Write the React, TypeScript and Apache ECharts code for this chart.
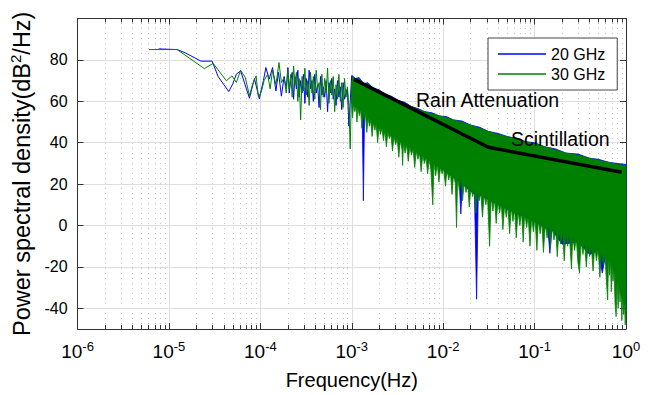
import React, { useEffect, useRef } from "react";
import * as echarts from "echarts";

// ---------- data ----------
// 20 GHz, sparse low-frequency part
const blueLowFreq = [7.69e-6, 1.23e-5, 1.51e-5, 2.24e-5, 2.97e-5, 3.45e-5, 4.51e-5, 5.0e-5, 5.46e-5, 6.08e-5, 7.6e-5, 8.61e-5, 9.75e-5, 1.08e-4, 1.15e-4, 1.25e-4, 1.36e-4, 1.48e-4, 1.58e-4, 1.7e-4, 1.82e-4, 1.92e-4];
const blueLowDb = [85.3, 85, 83.4, 79.4, 79.4, 72, 64.7, 68.5, 73.1, 74.7, 61.5, 71, 61.2, 70, 76.3, 70.7, 76.3, 65, 74, 62.5, 72, 66];
// 30 GHz, sparse low-frequency part
const greenLowFreq = [6.05e-6, 1.23e-5, 2.44e-5, 3.05e-5, 4.25e-5, 4.9e-5, 5.46e-5, 6.08e-5, 6.84e-5, 7.6e-5, 8.2e-5, 8.99e-5, 9.5e-5, 1.02e-4, 1.1e-4, 1.2e-4, 1.28e-4, 1.36e-4, 1.48e-4, 1.6e-4, 1.7e-4, 1.82e-4, 1.92e-4];
const greenLowDb = [85, 85, 75.8, 78.3, 69.9, 72.3, 69.1, 75, 71.5, 62.8, 68, 72.3, 62, 64.4, 70, 73.1, 66, 75, 68, 78.7, 69, 71.5, 64];
// dense noisy part 2e-4 .. 1e-3
const denseFreq = [2.0e-4, 2.07e-4, 2.15e-4, 2.23e-4, 2.31e-4, 2.39e-4, 2.48e-4, 2.57e-4, 2.66e-4, 2.76e-4, 2.86e-4, 2.96e-4, 3.07e-4, 3.18e-4, 3.3e-4, 3.42e-4, 3.54e-4, 3.67e-4, 3.8e-4, 3.94e-4, 4.08e-4, 4.23e-4, 4.39e-4, 4.55e-4, 4.71e-4, 4.88e-4, 5.06e-4, 5.25e-4, 5.44e-4, 5.63e-4, 5.84e-4, 6.05e-4, 6.27e-4, 6.5e-4, 6.73e-4, 6.98e-4, 7.23e-4, 7.5e-4, 7.77e-4, 8.05e-4, 8.34e-4, 8.65e-4, 8.96e-4, 9.29e-4, 9.62e-4, 9.97e-4];
const denseBlueDb = [76.3, 64, 70, 74, 61, 72, 66, 75, 62, 70, 64, 73, 59, 71, 62, 75, 66, 70, 60, 73, 64, 68, 57, 72, 63, 67, 62, 70, 55, 69, 64, 71, 61, 66, 58, 70, 62, 67, 56, 69, 61, 64, 66, 48, 60, 72];
const denseGreenDb = [75.5, 66, 73, 62, 77, 68, 74, 60, 71, 51, 72, 65, 76, 63, 70, 58, 74, 64, 72, 61, 75, 66, 69, 56, 73, 62, 71, 64, 76, 59, 70, 63, 72, 55, 68, 61, 73, 60, 69, 57, 71, 62, 67, 58, 37, 70];

// envelopes of the very dense spectra, 1e-3 .. 1 Hz  ([freq, dB])
const blueBandUpper = [[1.0e-3, 72.5], [1.1e-3, 71], [1.2e-3, 71.5], [1.35e-3, 68.5], [1.5e-3, 69], [1.7e-3, 66.5], [2.0e-3, 65.5], [2.3e-3, 63.5], [2.7e-3, 62.5], [3.2e-3, 60.5], [3.8e-3, 59.5], [4.5e-3, 57.5], [5.3e-3, 56.5], [6.3e-3, 55], [7.5e-3, 54.5], [9.0e-3, 53], [1.1e-2, 52.5], [1.3e-2, 51], [1.6e-2, 50.5], [2.0e-2, 48.5], [2.5e-2, 47.5], [3.1e-2, 45.5], [4.0e-2, 44.5], [5.0e-2, 43], [6.5e-2, 42], [8.0e-2, 40.5], [0.1, 40], [0.13, 38], [0.17, 37], [0.22, 35], [0.3, 34.5], [0.4, 32.5], [0.5, 32], [0.65, 30.5], [0.8, 30], [1.0, 29.5]];
const blueBandLower = [[1.0e-3, 59], [1.3e-3, 55], [1.34e-3, 12], [1.38e-3, 54], [3.0e-3, 43], [1.0e-2, 27], [1.5e-2, 21], [1.56e-2, 5.6], [1.62e-2, 20], [2.2e-2, 15], [2.32e-2, -35.6], [2.42e-2, 15], [5.0e-2, 8], [0.1, 2], [0.14, -2], [0.147, -13.4], [0.154, -2], [0.2, -9], [0.3, -8], [0.4, -14], [0.5, -12], [0.55, -23], [0.6, -14], [0.7, -18], [0.85, -30], [1.0, -40]];
const greenBandUpper = [[1.0e-3, 72], [1.1e-3, 70.5], [1.2e-3, 71], [1.35e-3, 68.5], [1.5e-3, 68.5], [1.7e-3, 66.5], [2.0e-3, 65], [2.3e-3, 63.5], [2.7e-3, 62], [3.2e-3, 60.5], [3.8e-3, 59], [4.5e-3, 57.5], [5.3e-3, 56], [6.3e-3, 55], [7.5e-3, 54], [9.0e-3, 53], [1.1e-2, 52], [1.3e-2, 51], [1.6e-2, 50], [2.0e-2, 48.5], [2.5e-2, 47], [3.1e-2, 45.5], [4.0e-2, 44], [5.0e-2, 43], [6.5e-2, 41.5], [8.0e-2, 40.5], [0.1, 39.5], [0.13, 38], [0.17, 36.5], [0.22, 35], [0.3, 34], [0.4, 32.5], [0.5, 31.5], [0.65, 30.5], [0.8, 29.5], [1.0, 29]];
const greenBandLower = [[1.0e-3, 58], [1.02e-3, 52], [1.05e-3, 59], [1.08e-3, 55], [1.11e-3, 58], [1.14e-3, 50], [1.17e-3, 57], [1.21e-3, 53], [1.25e-3, 56], [1.29e-3, 47], [1.33e-3, 54], [1.37e-3, 51], [1.41e-3, 54], [1.46e-3, 45], [1.51e-3, 52], [1.56e-3, 48], [1.61e-3, 51], [1.67e-3, 43], [1.73e-3, 50], [1.79e-3, 46], [1.85e-3, 49], [1.92e-3, 40], [1.99e-3, 48], [2.06e-3, 44], [2.14e-3, 47], [2.22e-3, 41], [2.3e-3, 46], [2.39e-3, 38], [2.48e-3, 45], [2.58e-3, 42], [2.68e-3, 44], [2.79e-3, 36], [2.9e-3, 43], [3.02e-3, 39], [3.14e-3, 42], [3.27e-3, 33], [3.4e-3, 41], [3.54e-3, 37], [3.6e-3, 29], [3.68e-3, 40], [3.83e-3, 35], [3.99e-3, 39], [4.15e-3, 31], [4.32e-3, 38], [4.5e-3, 34], [4.69e-3, 37], [4.88e-3, 28], [5.08e-3, 36], [5.29e-3, 32], [5.51e-3, 35], [5.74e-3, 26], [5.98e-3, 34], [6.23e-3, 30], [6.49e-3, 33], [6.76e-3, 25], [7.04e-3, 32], [7.33e-3, 27], [7.7e-3, 10], [7.95e-3, 31], [8.28e-3, 24], [8.62e-3, 30], [8.98e-3, 21], [9.35e-3, 28], [9.74e-3, 25], [1.01e-2, 28], [1.06e-2, 19], [1.1e-2, 27], [1.15e-2, 22], [1.2e-2, 26], [1.25e-2, 15], [1.3e-2, 25], [1.36e-2, 20], [1.4e-2, -1], [1.44e-2, 24], [1.5e-2, 17], [1.57e-2, 23], [1.63e-2, 12], [1.7e-2, 21], [1.78e-2, 16], [1.85e-2, 20], [1.93e-2, 9], [2.01e-2, 19], [2.1e-2, 14], [2.19e-2, 18], [2.28e-2, 6], [2.38e-2, 17], [2.48e-2, 12], [2.58e-2, 16], [2.69e-2, 4], [2.81e-2, 15], [2.93e-2, 10], [3.05e-2, 15], [3.22e-2, -10], [3.35e-2, 14], [3.5e-2, 7], [3.65e-2, 13], [3.8e-2, 1], [3.97e-2, 12], [4.14e-2, 6], [4.32e-2, 11], [4.5e-2, -2], [4.7e-2, 10], [4.9e-2, 4], [5.1e-2, 10], [5.33e-2, -4], [5.56e-2, 9], [5.8e-2, 2], [6.05e-2, 8], [6.3e-2, -6], [6.6e-2, 7], [6.9e-2, 0], [7.2e-2, 7], [7.5e-2, -8], [7.8e-2, 6], [8.2e-2, -1], [8.5e-2, 5], [8.9e-2, -10], [9.3e-2, 4], [9.7e-2, -3], [0.101, 4], [0.106, -12], [0.11, 3], [0.115, -4], [0.12, 2], [0.125, -13], [0.131, 1], [0.137, -6], [0.143, 1], [0.149, -11], [0.156, 0], [0.163, -7], [0.17, -1], [0.177, -15], [0.185, -2], [0.193, -9], [0.202, -3], [0.211, -17], [0.22, -3], [0.23, -10], [0.24, -4], [0.253, -21], [0.262, -5], [0.274, -12], [0.286, -6], [0.298, -18], [0.31, -23], [0.323, -7], [0.338, -14], [0.352, -8], [0.368, -20], [0.384, -9], [0.4, -15], [0.418, -10], [0.436, -22], [0.455, -10], [0.475, -17], [0.496, -11], [0.518, -25], [0.54, -12], [0.563, -19], [0.588, -13], [0.613, -28], [0.63, -36], [0.645, -15], [0.66, -24], [0.675, -16], [0.69, -32], [0.705, -18], [0.72, -27], [0.74, -21], [0.76, -38], [0.78, -44], [0.8, -26], [0.82, -40], [0.84, -28], [0.86, -37], [0.88, -30], [0.9, -46], [0.92, -33], [0.94, -43], [0.96, -36], [0.98, -48], [1.0, -42]];

// fitted slope line
const trendFreq = [1.06e-3, 0.0312, 0.897];
const trendDb = [70.6, 37.8, 25.7];

// axes
const yTicks = [-40, -20, 0, 20, 40, 60, 80];
const xDecades = [1e-6, 1e-5, 1e-4, 1e-3, 1e-2, 1e-1, 1];
const minorMultipliers = [2, 3, 4, 5, 6, 7, 8, 9];
const Y_MIN = -50;
const Y_MAX = 100;
const legendNames = ["20 GHz", "30 GHz"];

// ---------- styling ----------
const FONT = "'Liberation Sans', Arial, Helvetica, sans-serif";
const AXIS_COLOR = "#333333";
const GRID_COLOR = "#dedede";
const MINOR_COLOR = "#c4c4c4";
const BLUE = "#0000ff";
const GREEN = "#008000";

const zip = (xs: number[], ys: number[]) => xs.map((x, i) => [x, ys[i]]);

export default function App() {
  const ref = useRef<HTMLDivElement>(null);

  useEffect(() => {
    if (!ref.current) return;
    const chart = echarts.init(ref.current, null, { renderer: "svg" });

    const minorX: number[] = [];
    xDecades.slice(0, -1).forEach((d) => minorMultipliers.forEach((m) => minorX.push(d * m)));

    const vLine = (v: number, lineStyle: any) => [
      { coord: [v, Y_MIN], lineStyle },
      { coord: [v, Y_MAX] },
    ];
    const hLine = (v: number, lineStyle: any) => [
      { coord: [xDecades[0], v], lineStyle },
      { coord: [xDecades[xDecades.length - 1], v] },
    ];
    const minorStyle = { color: MINOR_COLOR, type: [1, 4], width: 1 };
    const majorStyle = { color: GRID_COLOR, type: "solid", width: 1 };
    const gridLines: any[] = [
      ...minorX.map((v) => vLine(v, minorStyle)),
      ...xDecades.map((v) => vLine(v, majorStyle)),
      ...yTicks.map((v) => hLine(v, majorStyle)),
    ];
    const minorTicks: any[] = [];
    minorX.forEach((v) => {
      minorTicks.push([{ coord: [v, Y_MIN] }, { coord: [v, Y_MIN + 1.9] }]);
      minorTicks.push([{ coord: [v, Y_MAX] }, { coord: [v, Y_MAX - 1.9] }]);
    });

    const band = (name: string, upper: number[][], lower: number[][], color: string) => ({
      type: "custom",
      name,
      silent: true,
      data: [[upper[0][0], upper[0][1]]],
      renderItem: (_params: any, api: any) => {
        const pts = upper
          .map((p) => api.coord(p))
          .concat(lower.slice().reverse().map((p) => api.coord(p)));
        return {
          type: "polygon",
          shape: { points: pts },
          style: { fill: color, stroke: color, lineWidth: 0.8 },
        };
      },
    });

    const axisLineStyle = { color: AXIS_COLOR, width: 1 };

    chart.setOption({
      animation: false,
      backgroundColor: "#ffffff",
      textStyle: { fontFamily: FONT },
      grid: { left: 71, top: 18.5, width: 555, height: 315, containLabel: false },
      legend: {
        data: legendNames,
        orient: "vertical",
        left: 488,
        top: 38,
        padding: [8, 12, 8, 10],
        itemWidth: 48,
        itemHeight: 1.5,
        itemGap: 4,
        icon: "rect",
        backgroundColor: "#ffffff",
        borderColor: "#444444",
        borderWidth: 1,
        borderRadius: 0,
        selectedMode: false,
        textStyle: { fontSize: 16, fontFamily: FONT, color: "#000", lineHeight: 16 },
      },
      xAxis: [
        {
          type: "log",
          logBase: 10,
          min: 1e-6,
          max: 1,
          position: "bottom",
          axisLine: { show: true, onZero: false, lineStyle: axisLineStyle },
          axisTick: { show: true, inside: true, length: 6, lineStyle: axisLineStyle },
          minorTick: { show: false },
          splitLine: { show: false },
          axisLabel: {
            margin: 11,
            color: "#000",
            formatter: (v: number) => `{b|10}{s|${Math.round(Math.log10(v))}}`,
            rich: {
              b: { fontSize: 19, fontFamily: FONT, color: "#000" },
              s: { fontSize: 13, fontFamily: FONT, color: "#000", padding: [0, 0, 10, 0] },
            },
          },
          name: "Frequency(Hz)",
          nameLocation: "middle",
          nameGap: 41,
          nameTextStyle: { fontSize: 20, fontFamily: FONT, color: "#000" },
        },
        {
          type: "log",
          logBase: 10,
          min: 1e-6,
          max: 1,
          position: "top",
          axisLine: { show: true, onZero: false, lineStyle: axisLineStyle },
          axisTick: { show: true, inside: true, length: 6, lineStyle: axisLineStyle },
          axisLabel: { show: false },
          splitLine: { show: false },
        },
      ],
      yAxis: [
        {
          type: "value",
          min: Y_MIN,
          max: Y_MAX,
          position: "left",
          axisLine: { show: true, onZero: false, lineStyle: axisLineStyle },
          axisTick: { show: true, inside: true, length: 6, customValues: yTicks, lineStyle: axisLineStyle },
          axisLabel: { customValues: yTicks, fontSize: 16, fontFamily: FONT, color: "#000", margin: 10 },
          splitLine: { show: false },
          name: "Power spectral density(dB{sup|2}/Hz)",
          nameLocation: "middle",
          nameRotate: 90,
          nameGap: 34,
          nameTextStyle: {
            fontSize: 23.5,
            fontFamily: FONT,
            color: "#000",
            rich: { sup: { fontSize: 15, fontFamily: FONT, color: "#000", padding: [0, 0, 12, 0] } },
          },
        },
        {
          type: "value",
          min: Y_MIN,
          max: Y_MAX,
          position: "right",
          axisLine: { show: true, onZero: false, lineStyle: axisLineStyle },
          axisTick: { show: true, inside: true, length: 6, customValues: yTicks, lineStyle: axisLineStyle },
          axisLabel: { show: false },
          splitLine: { show: false },
        },
      ],
      series: [
        {
          type: "line",
          name: "grid",
          data: [],
          silent: true,
          markLine: {
            silent: true,
            z: 0,
            symbol: ["none", "none"],
            label: { show: false },
            animation: false,
            data: gridLines,
          },
        },
        {
          type: "line",
          name: legendNames[0],
          data: zip(blueLowFreq, blueLowDb).concat(zip(denseFreq, denseBlueDb)),
          symbol: "none",
          color: BLUE,
          lineStyle: { color: BLUE, width: 1 },
          z: 2,
        },
        band("band20", blueBandUpper, blueBandLower, BLUE),
        {
          type: "line",
          name: legendNames[1],
          data: zip(greenLowFreq, greenLowDb).concat(zip(denseFreq, denseGreenDb)),
          symbol: "none",
          color: GREEN,
          lineStyle: { color: GREEN, width: 1 },
          z: 2,
        },
        band("band30", greenBandUpper, greenBandLower, GREEN),
        {
          type: "line",
          name: "trend",
          data: zip(trendFreq, trendDb),
          symbol: "none",
          color: "#000",
          lineStyle: { color: "#000", width: 3.5 },
          z: 3,
        },
        {
          type: "line",
          name: "minorTicks",
          data: [],
          silent: true,
          markLine: {
            silent: true,
            symbol: ["none", "none"],
            label: { show: false },
            animation: false,
            lineStyle: { color: AXIS_COLOR, type: "solid", width: 1 },
            data: minorTicks,
          },
        },
      ],
      graphic: [
        {
          type: "text",
          left: 416,
          top: 90,
          z: 100,
          style: { text: "Rain Attenuation", font: `19.5px ${FONT}`, fill: "#000" },
        },
        {
          type: "text",
          left: 511,
          top: 129,
          z: 100,
          style: { text: "Scintillation", font: `19.5px ${FONT}`, fill: "#000" },
        },
      ],
    });

    return () => chart.dispose();
  }, []);

  return (
    <div
      ref={ref}
      style={{ position: "fixed", left: 0, top: 0, width: 651, height: 395, background: "#fff" }}
    />
  );
}
